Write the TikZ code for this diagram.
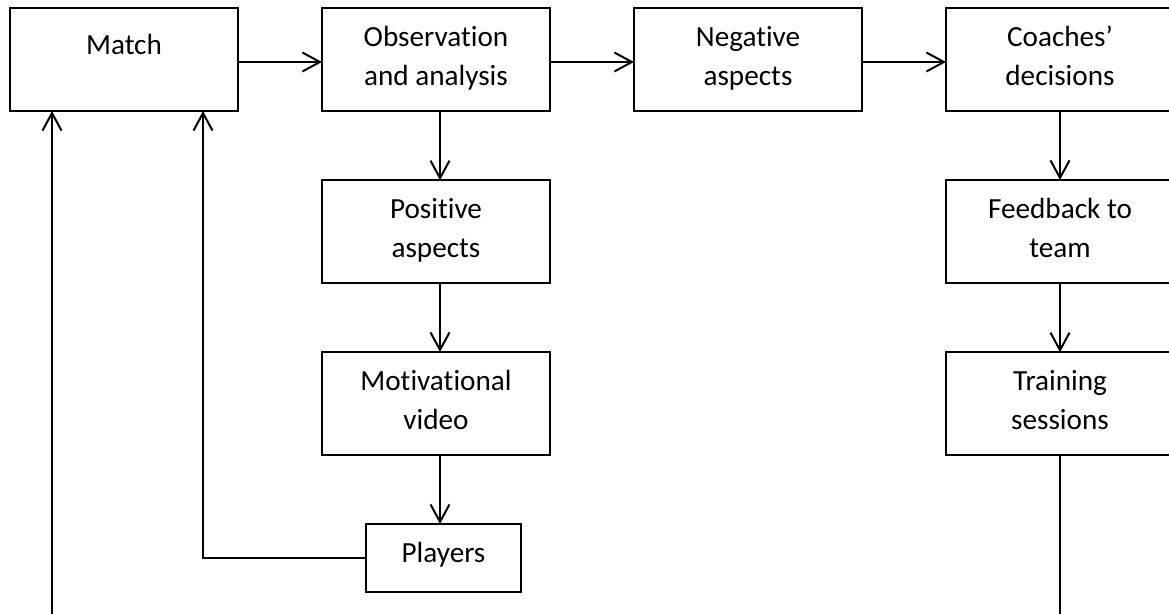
\documentclass[tikz,border=0pt]{standalone}
\usepackage{fontspec}
\setmainfont{Carlito}[Ligatures=CommonOff]
\usetikzlibrary{arrows.meta}
\begin{document}
\begin{tikzpicture}[x=0.5pt,y=-0.5pt,
  box/.style={draw=black, line width=0.8pt, rectangle, inner sep=0pt, outer sep=0pt,
              minimum width=114pt, minimum height=51.5pt},
  lbl/.style={anchor=north, inner sep=0pt, align=center,
              font=\fontsize{14.6pt}{19.5pt}\selectfont},
  arr/.style={line width=1pt, -{Straight Barb[length=8.75pt,width=9.5pt]}},
  link/.style={line width=1pt}]
\useasboundingbox (0,0) rectangle (1169,614);
\clip (0,0) rectangle (1169,614);

% boxes
\node[box] (match) at (124,59.5) {};
\node[box] (obs)   at (436,59.5) {};
\node[box] (neg)   at (748,59.5) {};
\node[box] (coach) at (1060,59.5) {};
\node[box] (pos)   at (436,231.75) {};
\node[box] (mot)   at (436,403.5) {};
\node[box] (fb)    at (1060,231.5) {};
\node[box] (train) at (1060,403.75) {};
\node[box, minimum width=77.5pt, minimum height=34pt] (players) at (443.5,558) {};

% box texts
\node[lbl] (match-t)   at ([yshift=-9.35pt]match.north)  {\strut Match};
\node[lbl] (obs-t)     at ([yshift=-5.35pt]obs.north)    {\strut Observation\\and analysis};
\node[lbl] (neg-t)     at ([yshift=-5.35pt]neg.north)    {\strut Negative\\aspects};
\node[lbl] (coach-t)   at ([yshift=-5.35pt]coach.north)  {\strut Coaches’\\decisions};
\node[lbl] (pos-t)     at ([yshift=-5.35pt]pos.north)    {\strut Positive\\aspects};
\node[lbl] (mot-t)     at ([yshift=-5.35pt]mot.north)    {\strut Motivational\\video};
\node[lbl] (fb-t)      at ([yshift=-5.35pt]fb.north)     {\strut Feedback to\\team};
\node[lbl] (train-t)   at ([yshift=-5.35pt]train.north)  {\strut Training\\sessions};
\node[lbl] (players-t) at ([yshift=-5.35pt]players.north){\strut Players};

% top row
\draw[arr] ([yshift=-1.25pt]match.east) -- ([yshift=-1.25pt]obs.west);
\draw[arr] ([yshift=-1.25pt]obs.east)   -- ([yshift=-1.25pt]neg.west);
\draw[arr] ([yshift=-1.25pt]neg.east)   -- ([yshift=-1.25pt]coach.west);

% positive branch
\draw[arr] ([xshift=2pt]obs.south) -- ([xshift=2pt]pos.north);
\draw[arr] ([xshift=2pt]pos.south) -- ([xshift=2pt]mot.north);
\draw[arr] ([xshift=2pt]mot.south) -- ([xshift=2pt]mot.south |- players.north);
\draw[arr] (players.west) -| ([xshift=39.5pt]match.south);

% negative branch
\draw[arr] (coach.south) -- (fb.north);
\draw[arr] (fb.south) -- (train.north);

% loop back below the picture
\coordinate (loopL) at (52,620);
\coordinate (loopR) at (1060,620);
\draw[link] (train.south) -- (loopR);
\draw[arr] (loopL) -- (loopL |- match.south);
\end{tikzpicture}
\end{document}
